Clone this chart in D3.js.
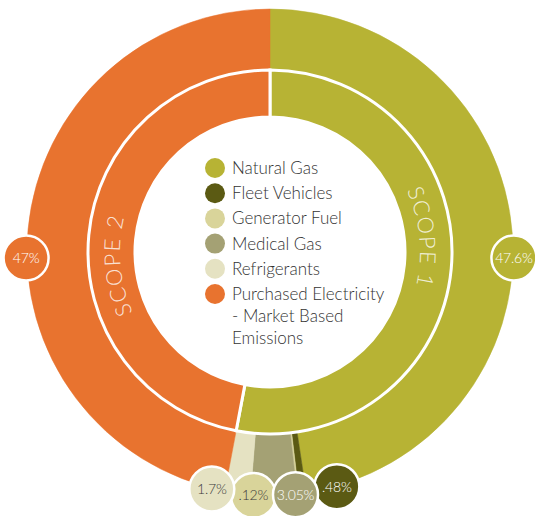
<!DOCTYPE html>
<html>
<head>
<meta charset="utf-8">
<script src="https://cdn.jsdelivr.net/npm/d3@7"></script>
<style>
  html, body { margin: 0; padding: 0; background: #fff; }
  svg { display: block; font-family: Lato, "Open Sans", sans-serif; }
</style>
</head>
<body>
<svg id="chart" width="535" height="516"></svg>
<script>
// categories and their share of total emissions (%)
const categories = [
  "Natural Gas",
  "Fleet Vehicles",
  "Generator Fuel",
  "Medical Gas",
  "Refrigerants",
  "Purchased Electricity - Market Based Emissions",
];
const shares = [47.6, 0.48, 0.12, 3.05, 1.7, 47];
const shareLabels = ["47.6%", ".48%", ".12%", "3.05%", "1.7%", "47%"];
const scopeOf = ["SCOPE 1", "SCOPE 1", "SCOPE 1", "SCOPE 1", "SCOPE 1", "SCOPE 2"];
const scopes = ["SCOPE 1", "SCOPE 2"];
const legendLines = [
  ["Natural Gas"],
  ["Fleet Vehicles"],
  ["Generator Fuel"],
  ["Medical Gas"],
  ["Refrigerants"],
  ["Purchased Electricity", "- Market Based", "Emissions"],
];

const colors = ["#b7b334", "#5b5a13", "#d9d49a", "#a4a174", "#e5e2c2", "#e8732f"];
const scopeColors = ["#b7b334", "#e8732f"];

const cx = 270, cy = 252;
const rHole = 135, rMid = 182, rOuter = 243;

const svg = d3.select("#chart");
const g = svg.append("g").attr("transform", `translate(${cx},${cy})`);

const data = categories.map((c, i) => ({ name: c, value: shares[i], scope: scopeOf[i], i }));
const scopeTotals = scopes.map((s) => ({
  name: s,
  value: d3.sum(data.filter((d) => d.scope === s), (d) => d.value),
}));

const pie = d3.pie().sort(null).value((d) => d.value);

// outer ring: categories
const outerArc = d3.arc().innerRadius(rMid).outerRadius(rOuter);
g.append("g")
  .selectAll("path")
  .data(pie(data))
  .join("path")
  .attr("d", outerArc)
  .attr("fill", (d) => colors[d.data.i])
  .attr("stroke", (d) => colors[d.data.i])
  .attr("stroke-width", 0.5);

// inner ring: scopes
const innerArc = d3.arc().innerRadius(rHole).outerRadius(rMid);
g.append("g")
  .selectAll("path")
  .data(pie(scopeTotals))
  .join("path")
  .attr("d", innerArc)
  .attr("fill", (d, i) => scopeColors[i])
  .attr("stroke", "#fff")
  .attr("stroke-width", 3);

// scope labels along the ring
const toRad = (deg) => (deg * Math.PI) / 180;
const labelAngles = [84.5, 265];
const rText = 150;
scopes.forEach((s, i) => {
  const a0 = toRad(labelAngles[i] - 70), a1 = toRad(labelAngles[i] + 70);
  const p = d3.path();
  p.arc(0, 0, rText, a0 - Math.PI / 2, a1 - Math.PI / 2, false);
  g.append("path").attr("id", "scopePath" + i).attr("d", p.toString()).attr("fill", "none");
  g.append("text")
    .attr("fill", "#fff")
    .attr("fill-opacity", 0.8)
    .style("font-size", "22px")
    .style("font-weight", 300)
    .style("letter-spacing", "1.5px")
    .append("textPath")
    .attr("href", "#scopePath" + i)
    .attr("startOffset", "50%")
    .attr("text-anchor", "middle")
    .text(s);
});

// value bubbles
const bubbleAngle = {};
bubbleAngle[0] = 91.4;
bubbleAngle[5] = 268.6;
[4, 2, 3, 1].forEach((idx, k) => (bubbleAngle[idx] = 193.8 - k * 9.9));
const rBubble = 244;

const bubbles = g.append("g")
  .selectAll("g")
  .data(data)
  .join("g")
  .attr("transform", (d) => {
    const a = toRad(bubbleAngle[d.i]);
    return `translate(${rBubble * Math.sin(a)},${-rBubble * Math.cos(a)})`;
  });

bubbles.append("circle")
  .attr("r", 22.5)
  .attr("fill", (d) => colors[d.i])
  .attr("stroke", "#fff")
  .attr("stroke-width", 2.5);

bubbles.append("text")
  .attr("text-anchor", "middle")
  .attr("dy", "0.36em")
  .attr("fill", (d) => (d.i === 2 || d.i === 4 ? "#3a3a3a" : "#fff"))
  .style("font-size", "14px")
  .style("font-weight", 300)
  .style("letter-spacing", "-0.2px")
  .text((d) => shareLabels[d.i]);

// legend in the middle
const legend = svg.append("g").attr("transform", "translate(215,168)");
const rowStep = 25.2;
const rows = legend.selectAll("g")
  .data(categories)
  .join("g")
  .attr("transform", (d, i) => `translate(0,${i * rowStep})`);

rows.append("circle")
  .attr("r", 10)
  .attr("fill", (d, i) => colors[i]);

rows.append("text")
  .attr("x", 17)
  .attr("y", 6)
  .attr("fill", "#333")
  .style("font-size", "17px")
  .style("font-weight", 300)
  .selectAll("tspan")
  .data((d, i) => legendLines[i])
  .join("tspan")
  .attr("x", 17)
  .attr("dy", (d, j) => (j === 0 ? 0 : 22))
  .text((d) => d);
</script>
</body>
</html>
